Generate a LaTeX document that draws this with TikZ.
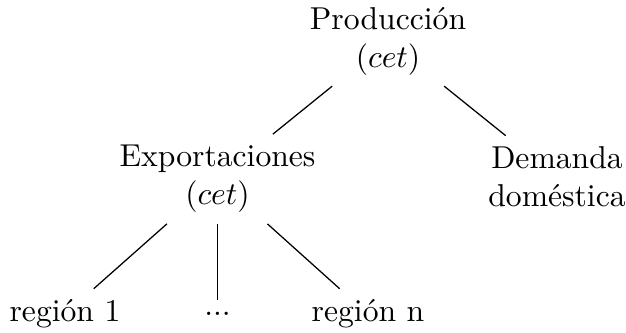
\documentclass[tikz,border=0pt]{standalone}
\begin{document}
\begin{tikzpicture}[x=0.316pt,y=-0.316pt,
    every node/.style={inner sep=3.33pt},
    inner/.style={align=center},
    leaf/.style={anchor=base}]
  \useasboundingbox (0,0) rectangle (626,333);
  % root
  \node[inner] (prod) at (388,41) {Producción\\($cet$)};
  % first level
  \node[inner] (exp) at (217.5,179) {Exportaciones\\($cet$)};
  \node[inner] (dem) at (557,177) {Demanda\\doméstica};
  % leaves
  \node[leaf] (r1) at (65,322) {región 1};
  \node[leaf, text height=3.3pt, text depth=0pt] (dots) at (217.5,322) {\raisebox{2pt}{...}};
  \node[leaf] (rn) at (368,322) {región n};
  % edges
  \draw (prod) -- (exp);
  \draw (prod) -- (dem);
  \draw (exp) -- (r1);
  \draw (exp) -- (dots);
  \draw (exp) -- (rn);
\end{tikzpicture}
\end{document}
